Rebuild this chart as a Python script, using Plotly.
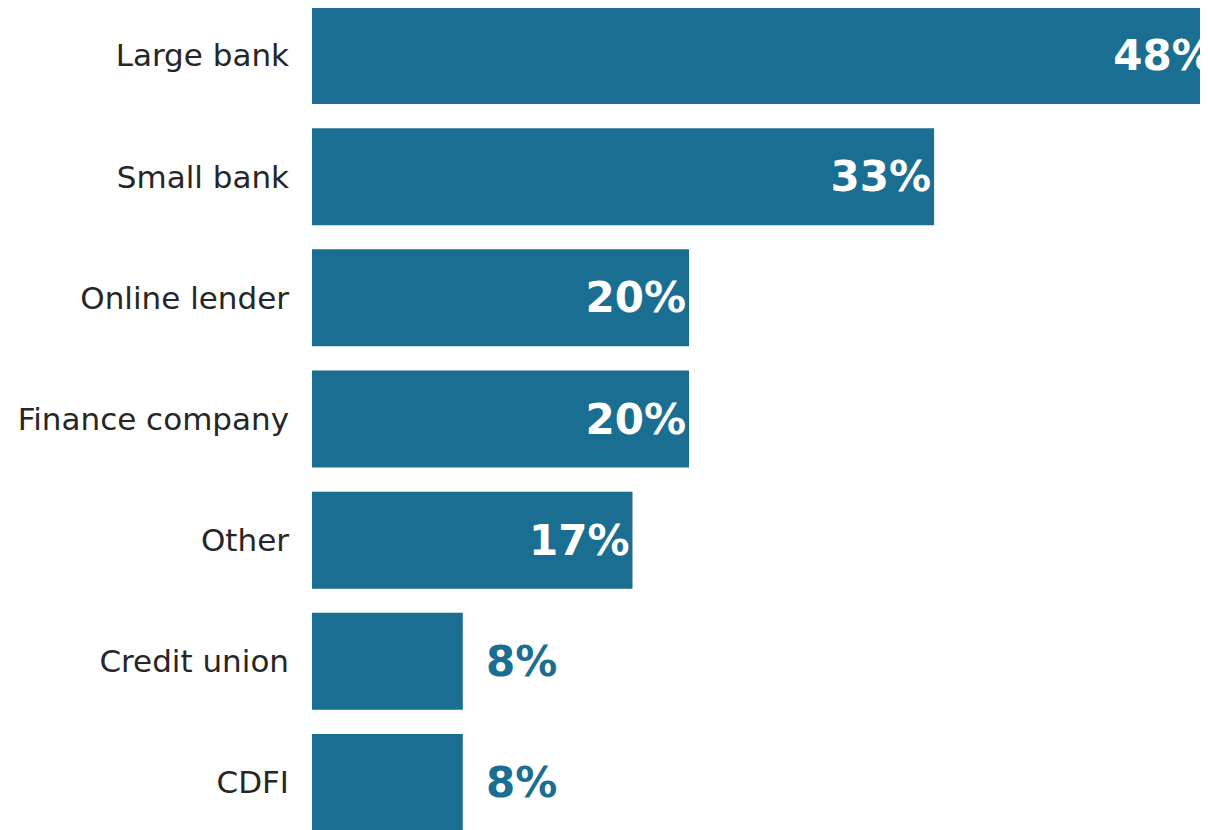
import plotly.graph_objects as go

lenders = [
    "Large bank",
    "Small bank",
    "Online lender",
    "Finance company",
    "Other",
    "Credit union",
    "CDFI",
]
shares = [48, 33, 20, 20, 17, 8, 8]

BAR_COLOR = "#1a6e92"
FONT = "DejaVu Sans"

# big bars get the label inside, small ones beside the bar
inside = [s >= 15 for s in shares]
labels = [f"{s}%" if i else "" for s, i in zip(shares, inside)]

fig = go.Figure(go.Bar(
    x=shares, y=lenders, orientation="h",
    marker=dict(color=BAR_COLOR, line=dict(width=0)),
    text=labels, textposition="inside", insidetextanchor="end",
    textangle=0, constraintext="none",
    insidetextfont=dict(family=FONT, size=42, color="white", weight="bold"),
    cliponaxis=True,
))

for name, s, i in zip(lenders, shares, inside):
    if not i:
        fig.add_annotation(
            x=s, y=name, text=f"{s}%", showarrow=False,
            xanchor="left", xshift=21,
            font=dict(family=FONT, size=42, color=BAR_COLOR, weight="bold"),
        )

# the reference is cropped on the right: let the figure run past the window
fig.update_layout(
    width=1220, height=822,
    margin=dict(l=304, r=0, t=0, b=0),
    plot_bgcolor="white", paper_bgcolor="white",
    bargap=0.2, showlegend=False,
    font=dict(family=FONT, color="#262626"),
)
fig.update_xaxes(range=[0, 48.59], visible=False, showgrid=False)
fig.update_yaxes(
    categoryorder="array", categoryarray=lenders,
    range=[6.392, -0.392], showgrid=False, showline=False,
    ticks="", ticklabelstandoff=22,
    tickfont=dict(family=FONT, size=31, color="#262626"),
)

fig.write_html("out.html")
